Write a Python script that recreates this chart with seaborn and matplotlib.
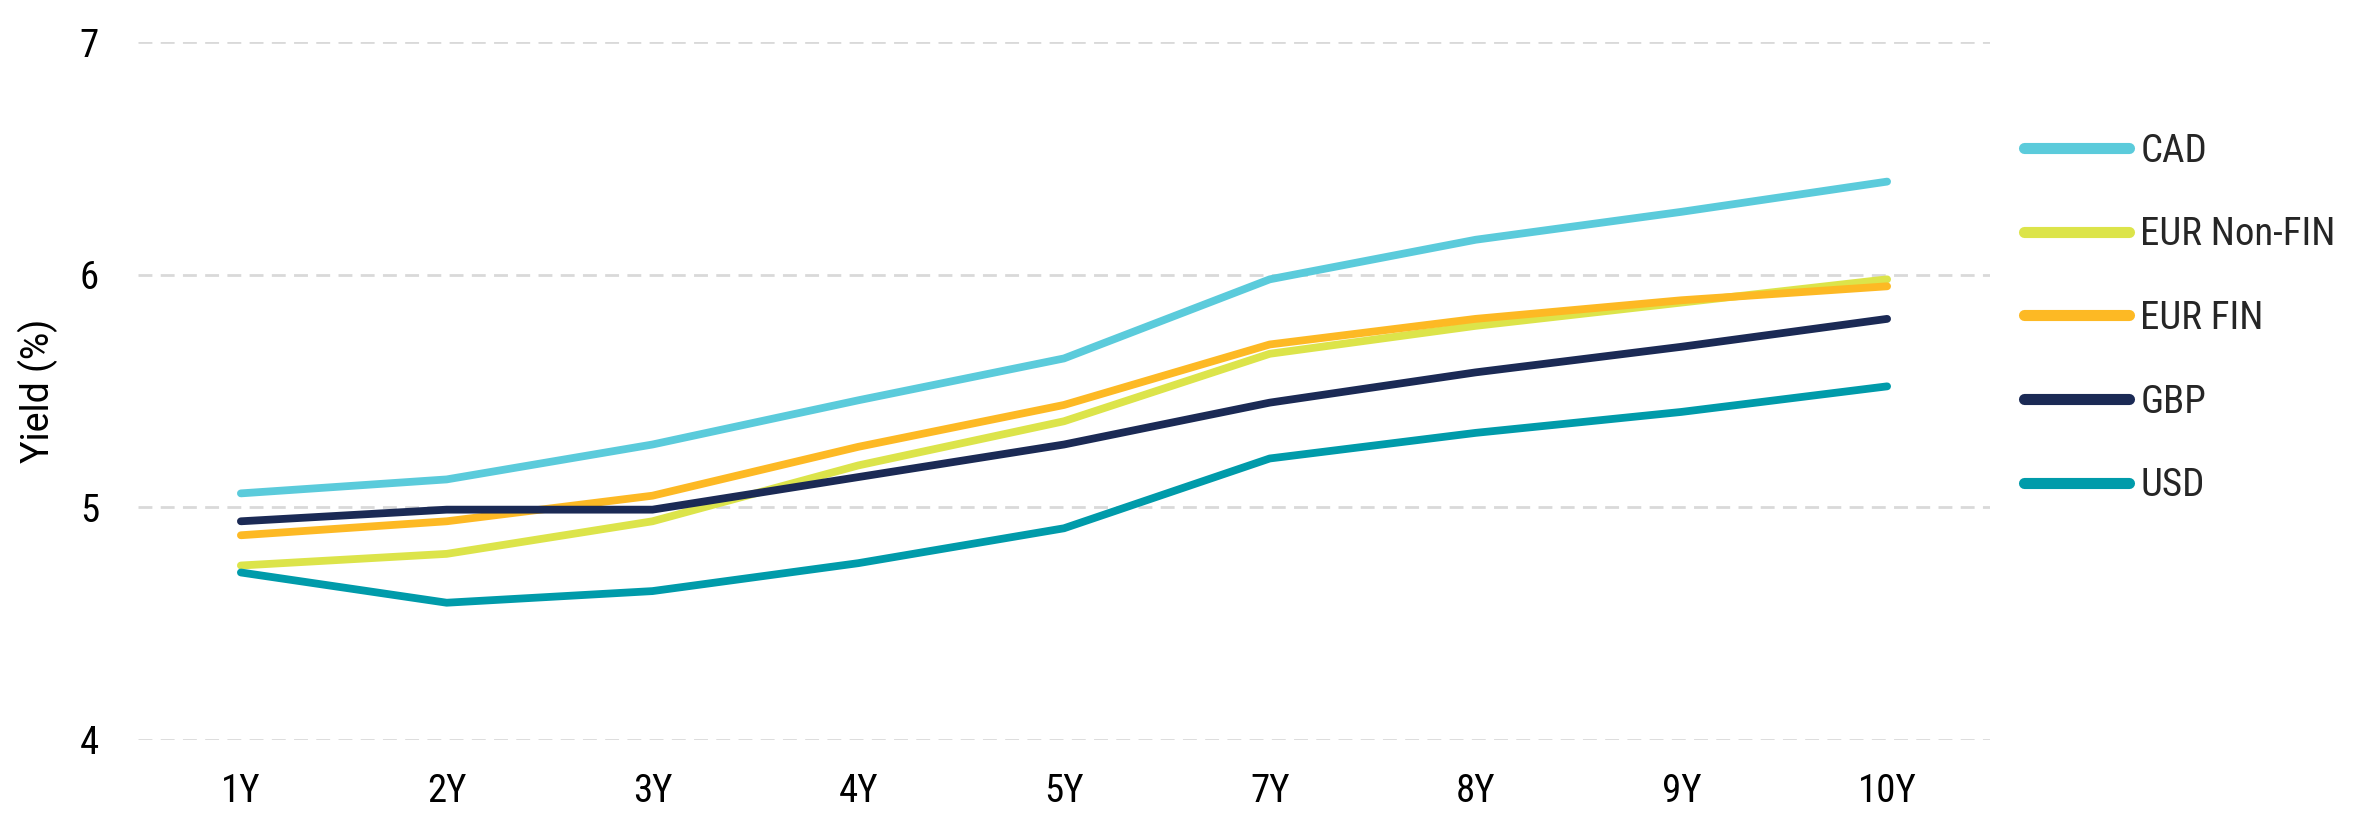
import matplotlib
matplotlib.use("Agg")
import matplotlib.pyplot as plt
import seaborn as sns
import pandas as pd
from matplotlib import font_manager

tenors = ["1Y", "2Y", "3Y", "4Y", "5Y", "7Y", "8Y", "9Y", "10Y"]
cad = [5.06, 5.12, 5.27, 5.46, 5.64, 5.98, 6.15, 6.27, 6.40]
eur_nonfin = [4.75, 4.80, 4.94, 5.18, 5.37, 5.66, 5.78, 5.88, 5.98]
eur_fin = [4.88, 4.94, 5.05, 5.26, 5.44, 5.70, 5.81, 5.89, 5.95]
gbp = [4.94, 4.99, 4.99, 5.13, 5.27, 5.45, 5.58, 5.69, 5.81]
usd = [4.72, 4.59, 4.64, 4.76, 4.91, 5.21, 5.32, 5.41, 5.52]

series_names = ["CAD", "EUR Non-FIN", "EUR FIN", "GBP", "USD"]
series_values = [cad, eur_nonfin, eur_fin, gbp, usd]
colors = ["#5BCBDB", "#DCE44A", "#FDB924", "#1B2A55", "#009BAA"]
y_ticks = [4, 5, 6, 7]

rows = []
for name, vals in zip(series_names, series_values):
    for t, v in zip(tenors, vals):
        rows.append({"Tenor": t, "Yield": v, "Series": name})
df = pd.DataFrame(rows)

sns.set_theme(style="white")
installed = {f.name for f in font_manager.fontManager.ttflist}
fam = ["Roboto Condensed"] if "Roboto Condensed" in installed else []
plt.rcParams["font.family"] = fam + ["Roboto", "DejaVu Sans"]
plt.rcParams["font.weight"] = "normal"

fig = plt.figure(figsize=(23.55, 8.34), dpi=100)
ax = fig.add_axes([138 / 2355, 1 - 740 / 834, (1990 - 138) / 2355, (740 - 42) / 834])

sns.lineplot(data=df, x="Tenor", y="Yield", hue="Series", hue_order=series_names,
             palette=dict(zip(series_names, colors)), sort=False, linewidth=5.6,
             ax=ax, legend=False, solid_capstyle="round")

ax.set_xlim(-0.5, len(tenors) - 0.5)
ax.set_ylim(4, 7)
ax.set_yticks(y_ticks)
ax.set_yticklabels([str(v) for v in y_ticks])
ax.set_xticks(range(len(tenors)))
ax.set_xticklabels(tenors)
for s in ax.spines.values():
    s.set_visible(False)
ax.grid(axis="y", color="#D9D9D9", linestyle=(0, (5, 3)), linewidth=2.0)
ax.grid(axis="x", visible=False)
ax.set_axisbelow(True)
ax.tick_params(axis="both", length=0, labelsize=28, colors="#000000")
ax.tick_params(axis="y", pad=28)
ax.tick_params(axis="x", pad=24)
ax.set_xlabel("")
ax.set_ylabel("Yield (%)", fontsize=27, labelpad=16, color="#000000",
              family=["Roboto", "DejaVu Sans"])

handles = [plt.Line2D([0], [0], color=c, lw=8, solid_capstyle="round") for c in colors]
fig.legend(handles, series_names, loc="upper left", bbox_to_anchor=(2008 / 2355, 1 - 117 / 834),
           frameon=False, fontsize=28, handlelength=2.7, handletextpad=0.3,
           labelspacing=1.2, borderaxespad=0)

fig.savefig("out.png", dpi=100)
